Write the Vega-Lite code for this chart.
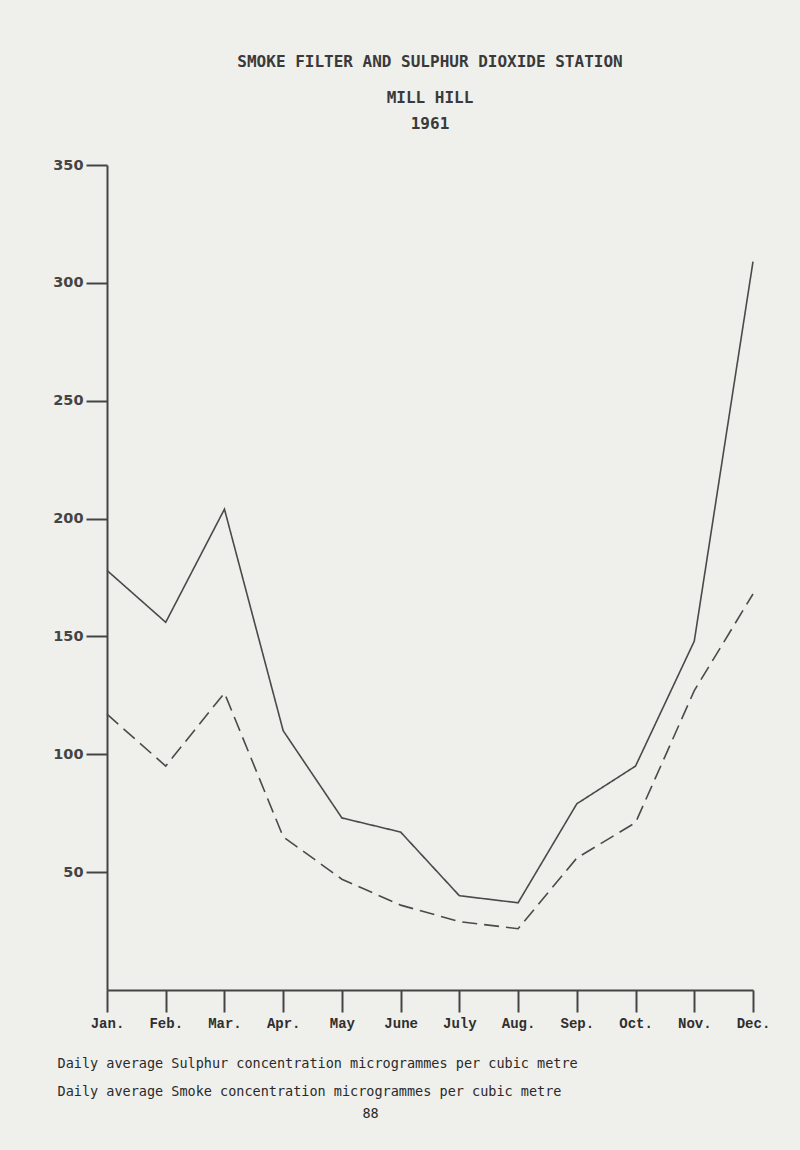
{
  "$schema": "https://vega.github.io/schema/vega-lite/v6.json",
  "width": 646,
  "height": 825,
  "autosize": {"type": "none"},
  "padding": {"left": 107, "top": 165, "right": 47, "bottom": 160},
  "background": "#efefeb",
  "config": {"view": {"stroke": null}},
  "title": {
    "text": "SMOKE FILTER AND SULPHUR DIOXIDE STATION",
    "subtitle": ["MILL HILL", "1961"],
    "font": "DejaVu Sans Mono",
    "fontSize": 16,
    "fontWeight": "bold",
    "color": "#3a3a3a",
    "subtitleFont": "DejaVu Sans Mono",
    "subtitleFontSize": 16,
    "subtitleFontWeight": "bold",
    "subtitleColor": "#3a3a3a",
    "subtitleLineHeight": 26,
    "subtitlePadding": 20,
    "anchor": "middle",
    "offset": 25
  },
  "data": {
    "values": [
      {"month": "Jan.", "series": "Sulphur", "value": 178},
      {"month": "Feb.", "series": "Sulphur", "value": 156},
      {"month": "Mar.", "series": "Sulphur", "value": 204},
      {"month": "Apr.", "series": "Sulphur", "value": 110},
      {"month": "May", "series": "Sulphur", "value": 73},
      {"month": "June", "series": "Sulphur", "value": 67},
      {"month": "July", "series": "Sulphur", "value": 40},
      {"month": "Aug.", "series": "Sulphur", "value": 37},
      {"month": "Sep.", "series": "Sulphur", "value": 79},
      {"month": "Oct.", "series": "Sulphur", "value": 95},
      {"month": "Nov.", "series": "Sulphur", "value": 148},
      {"month": "Dec.", "series": "Sulphur", "value": 309},
      {"month": "Jan.", "series": "Smoke", "value": 117},
      {"month": "Feb.", "series": "Smoke", "value": 95},
      {"month": "Mar.", "series": "Smoke", "value": 126},
      {"month": "Apr.", "series": "Smoke", "value": 65},
      {"month": "May", "series": "Smoke", "value": 47},
      {"month": "June", "series": "Smoke", "value": 36},
      {"month": "July", "series": "Smoke", "value": 29},
      {"month": "Aug.", "series": "Smoke", "value": 26},
      {"month": "Sep.", "series": "Smoke", "value": 56},
      {"month": "Oct.", "series": "Smoke", "value": 71},
      {"month": "Nov.", "series": "Smoke", "value": 127},
      {"month": "Dec.", "series": "Smoke", "value": 168}
    ]
  },
  "mark": {"type": "line", "strokeWidth": 1.6, "color": "#4a4a4a"},
  "encoding": {
    "x": {
      "field": "month",
      "type": "ordinal",
      "sort": ["Jan.", "Feb.", "Mar.", "Apr.", "May", "June", "July", "Aug.", "Sep.", "Oct.", "Nov.", "Dec."],
      "scale": {"type": "point", "padding": 0},
      "axis": {
        "title": ["Daily average Sulphur concentration microgrammes per cubic metre", "Daily average Smoke concentration microgrammes per cubic metre"],
        "titleFont": "DejaVu Sans Mono",
        "titleFontSize": 13.5,
        "titleFontWeight": "normal",
        "titleColor": "#2a2a2a",
        "titleAnchor": "start",
        "titleAlign": "left",
        "titleBaseline": "alphabetic",
        "titleX": -50,
        "titleY": 77,
        "titleLineHeight": 28,
        "labelAngle": 0,
        "labelFont": "Liberation Mono",
        "labelFontSize": 14,
        "labelFontWeight": "bold",
        "labelColor": "#2f2f2f",
        "labelPadding": 4,
        "tickSize": 22,
        "tickColor": "#444444",
        "tickWidth": 2,
        "domainColor": "#444444",
        "domainWidth": 2,
        "grid": false
      }
    },
    "y": {
      "field": "value",
      "type": "quantitative",
      "scale": {"domain": [0, 350], "nice": false},
      "axis": {
        "values": [50, 100, 150, 200, 250, 300, 350],
        "tickSize": 21,
        "tickColor": "#444444",
        "tickWidth": 2,
        "domainColor": "#444444",
        "domainWidth": 2,
        "labelFont": "DejaVu Sans",
        "labelFontWeight": "bold",
        "labelFontSize": 14.5,
        "labelColor": "#444444",
        "labelPadding": 3,
        "grid": false,
        "title": "88",
        "titleAngle": 0,
        "titleX": 263,
        "titleY": 948,
        "titleFont": "DejaVu Sans Mono",
        "titleFontSize": 13.5,
        "titleFontWeight": "normal",
        "titleColor": "#2a2a2a",
        "titleAlign": "center",
        "titleBaseline": "middle"
      }
    },
    "strokeDash": {
      "field": "series",
      "type": "nominal",
      "scale": {"domain": ["Sulphur", "Smoke"], "range": [[1, 0], [15, 7]]},
      "legend": null
    }
  }
}
